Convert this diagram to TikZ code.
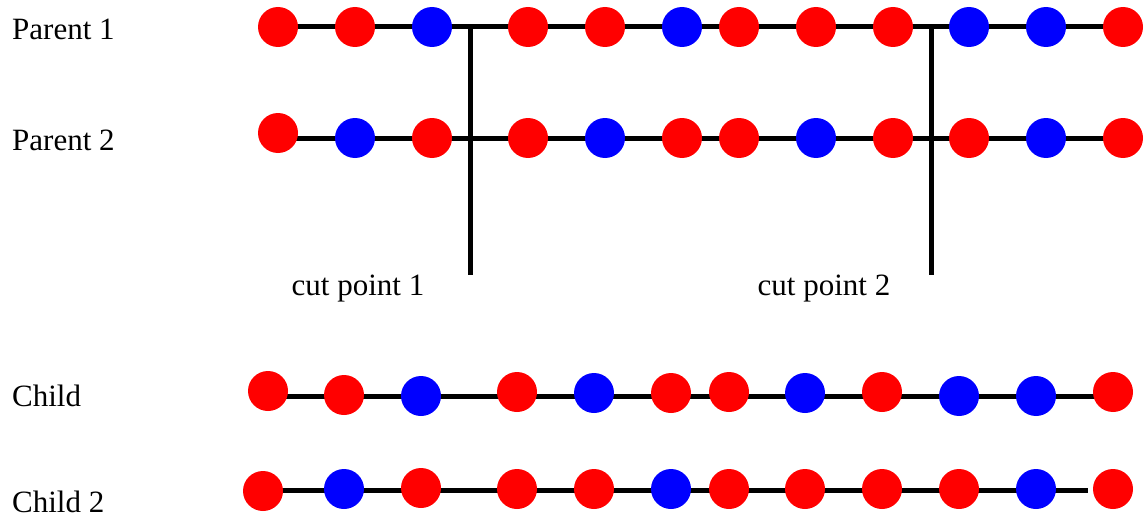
\documentclass[tikz,border=0pt]{standalone}
\usepackage{fontspec}
\setmainfont{Liberation Serif}
\usepackage{tikz}
\usetikzlibrary{backgrounds}

\begin{document}
\begin{tikzpicture}[
    x=1pt, y=-1pt,
    font=\fontsize{31}{37}\selectfont,
    gene/.style={circle, draw=none, inner sep=0pt, minimum size=40pt},
    rgene/.style={gene, fill=red},
    bgene/.style={gene, fill=blue},
    lbl/.style={anchor=base west, inner sep=0pt},
    cutlbl/.style={anchor=base, inner sep=0pt},
    chrom/.style={line width=5pt},
    cut/.style={line width=5pt}
]
\useasboundingbox (0,0) rectangle (1144,519);

% Row labels
\node[lbl] (lp1) at (12,40) {Parent 1};
\node[lbl] (lp2) at (12,150) {Parent 2};
\node[lbl] (lc1) at (12,406) {Child};
\node[lbl] (lc2) at (12,512) {Child 2};

% Parent 1
\foreach \i/\x/\y/\c in {1/278/27/r, 2/355/27/r, 3/432/27/b, 4/528/27/r, 5/605/27/r, 6/682/27/b,
                          7/739/27/r, 8/816/27/r, 9/893/27/r, 10/969/27/b, 11/1046/27/b, 12/1123/27/r}
    \node[\c gene] (p1-\i) at (\x,\y) {};

% Parent 2
\foreach \i/\x/\y/\c in {1/278/133/r, 2/355/138/b, 3/432/138/r, 4/528/138/r, 5/605/138/b, 6/682/138/r,
                          7/739/138/r, 8/816/138/b, 9/893/138/r, 10/969/138/r, 11/1046/138/b, 12/1123/138/r}
    \node[\c gene] (p2-\i) at (\x,\y) {};

% Child
\foreach \i/\x/\y/\c in {1/268/391/r, 2/344/395/r, 3/421/396/b, 4/517/392/r, 5/594/393/b, 6/671/393/r,
                          7/729/392/r, 8/805/393/b, 9/882/392/r, 10/959/396/b, 11/1036/396/b, 12/1113/392/r}
    \node[\c gene] (c1-\i) at (\x,\y) {};

% Child 2
\foreach \i/\x/\y/\c in {1/263/491/r, 2/344/489/b, 3/421/488/r, 4/517/489/r, 5/594/489/r, 6/671/489/b,
                          7/729/489/r, 8/805/489/r, 9/882/489/r, 10/959/489/r, 11/1036/489/b, 12/1113/489/r}
    \node[\c gene] (c2-\i) at (\x,\y) {};
\coordinate (c2end) at (1088,490);

% Cut points
\coordinate (cut1) at (470,275);
\coordinate (cut2) at (931,275);
\node[cutlbl] (cut1lbl) at (358,295) {cut point 1};
\node[cutlbl] (cut2lbl) at (824,295) {cut point 2};

\begin{scope}[on background layer]
\draw[chrom] (p1-1.center) -- (p1-12.center);
\draw[chrom] (p2-1.center |- p2-2.center) -- (p2-12.center);
\draw[chrom] (c1-1.center |- c1-3.center) -- (c1-12.center |- c1-3.center);
\draw[chrom] (c2-1.center |- c2end) -- (c2end);
\draw[cut] (cut1 |- p1-1.center) -- (cut1);
\draw[cut] (cut2 |- p1-1.center) -- (cut2);
\end{scope}
\end{tikzpicture}
\end{document}
